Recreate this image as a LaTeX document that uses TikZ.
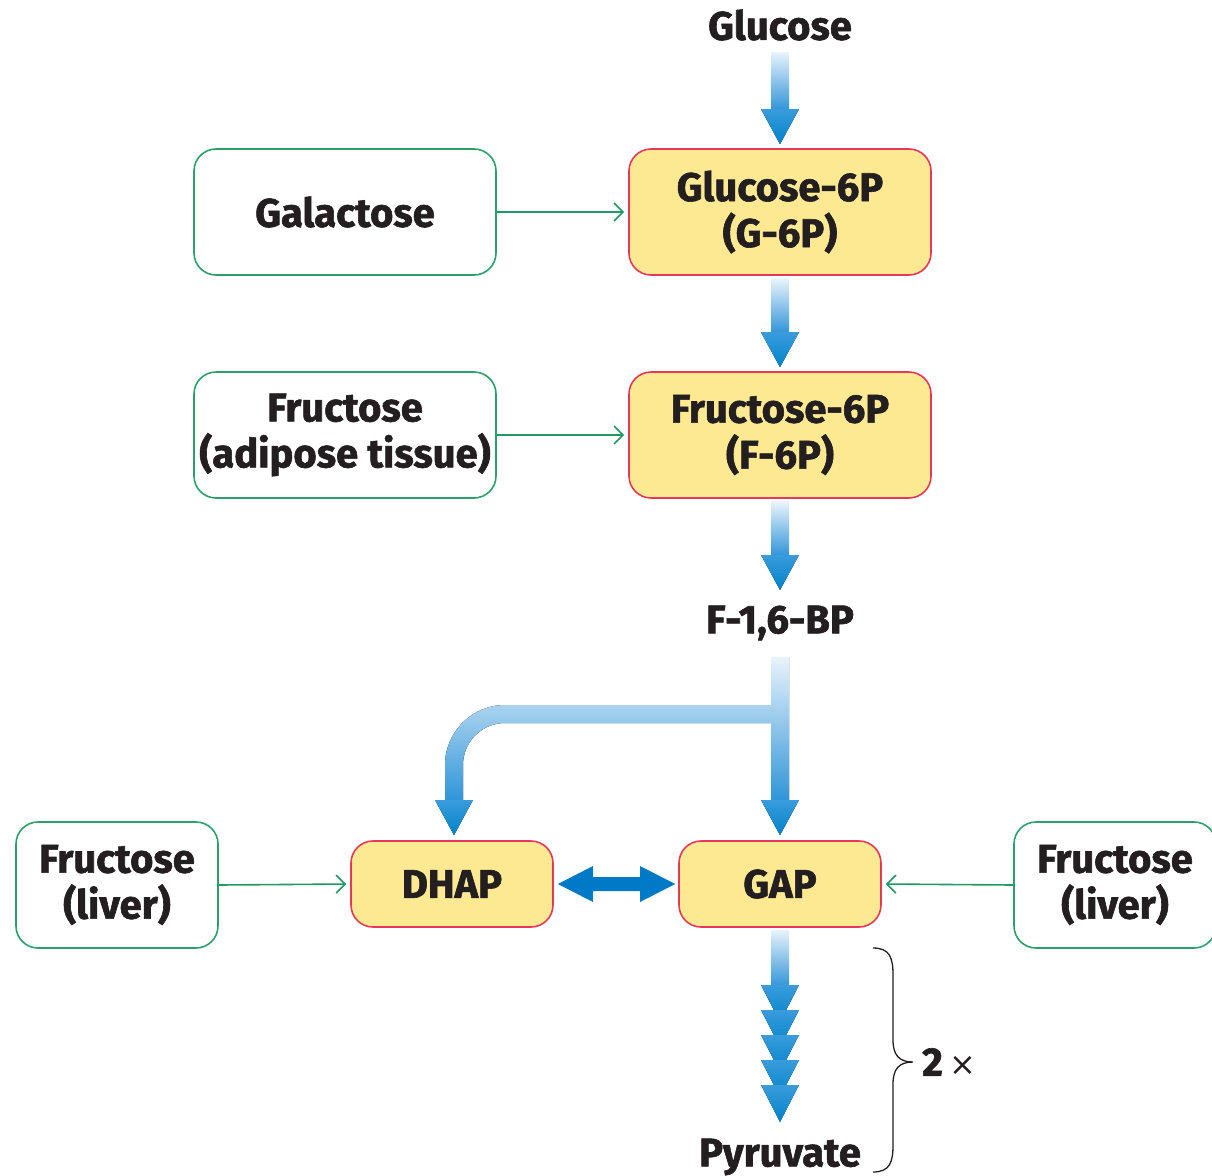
\documentclass[tikz,border=0pt]{standalone}
\usepackage{fontspec}
\setmainfont{Fira Sans}[BoldFeatures={FakeBold=1.5}]
\newfontfamily\djv{DejaVu Sans}
\usetikzlibrary{calc,arrows.meta}
\definecolor{boxyellow}{HTML}{FDE992}
\definecolor{boxred}{HTML}{E8385A}
\definecolor{gborder}{HTML}{2AA06A}
\definecolor{garrow}{HTML}{1E9A62}
\definecolor{shafttop}{HTML}{E8F3FB}
\definecolor{shaftbot}{HTML}{2F94D8}
\definecolor{headtop}{HTML}{3A9CDC}
\definecolor{headbot}{HTML}{0083CA}
\definecolor{dblue}{HTML}{0079C6}
\definecolor{txt}{HTML}{231F20}
\newcommand\lab{\fontsize{40}{46}\selectfont\bfseries\color{txt}}
\newcommand\bluedown[2]{%
  \fill[top color=shafttop,bottom color=shaftbot] let \p1=(#1),\p2=(#2) in (\x1-9pt,\y1) rectangle (\x1+9pt,\y2+34pt);
  \fill[top color=headtop,bottom color=headbot] let \p1=(#1),\p2=(#2) in (\x1-19pt,\y2+35pt) -- (\x2,\y2) -- (\x1+19pt,\y2+35pt) -- cycle;}
\tikzset{
  ybox/.style={draw=boxred,fill=boxyellow,line width=1.6pt,rounded corners=22pt,align=center,font=\lab,inner sep=0pt},
  gbox/.style={draw=gborder,fill=white,line width=1.6pt,rounded corners=22pt,align=center,font=\lab,inner sep=0pt},
  bigbox/.style={minimum width=302pt,minimum height=126pt},
  smallbox/.style={minimum width=202pt,minimum height=86pt},
  liverbox/.style={minimum width=202pt,minimum height=126pt},
  plain/.style={font=\lab,inner sep=0pt},
  garr/.style={draw=garrow,line width=1.6pt,-{Straight Barb[length=9pt,width=18pt,line width=1.6pt]},shorten >=4pt},
}
\begin{document}
\begin{tikzpicture}[x=1pt,y=-1pt]
\useasboundingbox (0,0) rectangle (1212,1175);
% nodes
\node[plain] (glc) at (780,25) {Glucose};
\node[gbox,bigbox] (gal) at (345,212) {Galactose};
\node[ybox,bigbox] (g6p) at (780,212) {Glucose-6P\\(G-6P)};
\node[gbox,bigbox] (fad) at (345,435) {Fructose\\(adipose tissue)};
\node[ybox,bigbox] (f6p) at (780,435) {Fructose-6P\\(F-6P)};
\node[plain] (fbp) at (780,623) {F-1,6-BP};
\node[ybox,smallbox] (dhap) at (452,884) {DHAP};
\node[ybox,smallbox] (gap) at (780,884) {GAP};
\node[gbox,liverbox] (fl1) at (117,885) {Fructose\\(liver)};
\node[gbox,liverbox] (fl2) at (1115,885) {Fructose\\(liver)};
\node[plain] (pyr) at (780,1157) {Pyruvate};
\node[font=\lab,inner sep=0pt,anchor=west] (two) at (922,1062) {2\,{\djv\mdseries\fontsize{32}{32}\selectfont ×}};
% green arrows
\draw[garr] (gal.east) -- (g6p.west);
\draw[garr] (fad.east) -- (f6p.west);
\draw[garr] (fl1.east) -- (dhap.west);
\draw[garr] (fl2.west) -- (gap.east);
% blue arrows
\coordinate (s1) at (780,52);
\coordinate (t1) at ($(g6p.north)+(0,-4)$);
\coordinate (s2) at ($(g6p.south)+(0,3)$);
\coordinate (t2) at ($(f6p.north)+(0,-4)$);
\coordinate (s3) at ($(f6p.south)+(0,3)$);
\coordinate (t3) at (780,590);
\bluedown{s1}{t1}
\bluedown{s2}{t2}
\bluedown{s3}{t3}
% split from F-1,6-BP
\fill[top color=shafttop,bottom color=shaftbot]
  (771,657) -- (789,657) -- (789,801) -- (771,801) -- (771,723) -- (505,723)
  .. controls (481.8,723) and (463,741.8) .. (463,765) -- (463,801) -- (445,801) -- (445,765)
  .. controls (445,731.9) and (471.9,705) .. (505,705) -- (771,705) -- cycle;
\coordinate (tg) at ($(gap.north)+(0,-5)$);
\coordinate (td) at ($(dhap.north)+(2,-5)$);
\fill[top color=headtop,bottom color=headbot] (761,800) -- (tg) -- (799,800) -- cycle;
\fill[top color=headtop,bottom color=headbot] (435,800) -- (td) -- (473,800) -- cycle;
% double arrow
\fill[dblue] ($(dhap.east)+(4,0)$) -- (593,866) -- (593,877) -- (640,877) -- (640,866) -- ($(gap.west)+(-3,0)$) -- (640,902) -- (640,891) -- (593,891) -- (593,902) -- cycle;
% to pyruvate
\coordinate (sp) at ($(gap.south)+(0,3)$);
\fill[top color=shafttop,bottom color=shaftbot] (771,930) rectangle (789,987);
\foreach \t in {985,1010,1035,1060,1085}{
  \fill[top color=headtop,bottom color=headbot] (761,\t) -- (780,\t+37) -- (799,\t) -- cycle;}
% brace
\draw[txt,line width=1.3pt] (873,948) .. controls (890,948) and (893,958) .. (893,975) -- (893,1040)
  .. controls (893,1055) and (899,1062) .. (913,1062)
  .. controls (899,1062) and (893,1069) .. (893,1084) -- (893,1145)
  .. controls (893,1162) and (890,1172) .. (873,1172);
\end{tikzpicture}
\end{document}
